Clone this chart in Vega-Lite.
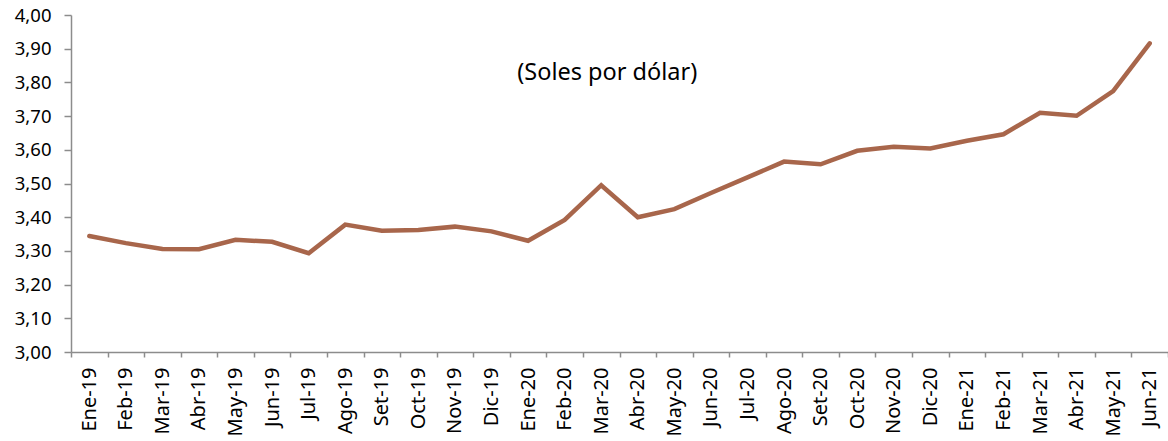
{
  "$schema": "https://vega.github.io/schema/vega-lite/v6.json",
  "autosize": {"type": "none"},
  "width": 1097,
  "height": 337,
  "padding": {"left": 71, "top": 15, "right": 0, "bottom": 89},
  "background": "white",
  "config": {
    "locale": {"number": {"decimal": ",", "thousands": ".", "grouping": [3], "currency": ["", ""]}},
    "view": {"stroke": null},
    "font": "Noto Sans",
    "axisX": {
      "title": null, "labelAngle": -90, "labelFontSize": 20, "labelColor": "#000000",
      "labelFontWeight": "normal", "labelOverlap": false, "labelBound": false,
      "tickSize": 5, "tickColor": "#8c8c8c", "domainColor": "#8c8c8c",
      "domainWidth": 1.5, "tickWidth": 1.5, "labelPadding": 10, "labelFont": "Noto Sans"
    },
    "axisY": {
      "title": null, "grid": false, "labelFontSize": 18.5, "labelColor": "#000000",
      "labelFontWeight": "normal", "labelOverlap": false, "labelBound": false,
      "tickSize": 7, "tickColor": "#8c8c8c", "domainColor": "#8c8c8c",
      "domainWidth": 1.5, "tickWidth": 1.5, "labelPadding": 13, "labelFont": "Noto Sans"
    }
  },
  "layer": [
    {
      "data": {
        "values": [
          {"mes": "Ene-19", "tc": 3.344},
          {"mes": "Feb-19", "tc": 3.323},
          {"mes": "Mar-19", "tc": 3.306},
          {"mes": "Abr-19", "tc": 3.305},
          {"mes": "May-19", "tc": 3.333},
          {"mes": "Jun-19", "tc": 3.327},
          {"mes": "Jul-19", "tc": 3.293},
          {"mes": "Ago-19", "tc": 3.378},
          {"mes": "Set-19", "tc": 3.360},
          {"mes": "Oct-19", "tc": 3.362},
          {"mes": "Nov-19", "tc": 3.372},
          {"mes": "Dic-19", "tc": 3.358},
          {"mes": "Ene-20", "tc": 3.330},
          {"mes": "Feb-20", "tc": 3.392},
          {"mes": "Mar-20", "tc": 3.495},
          {"mes": "Abr-20", "tc": 3.400},
          {"mes": "May-20", "tc": 3.424},
          {"mes": "Jun-20", "tc": 3.472},
          {"mes": "Jul-20", "tc": 3.518},
          {"mes": "Ago-20", "tc": 3.565},
          {"mes": "Set-20", "tc": 3.557},
          {"mes": "Oct-20", "tc": 3.597},
          {"mes": "Nov-20", "tc": 3.609},
          {"mes": "Dic-20", "tc": 3.604},
          {"mes": "Ene-21", "tc": 3.627},
          {"mes": "Feb-21", "tc": 3.646},
          {"mes": "Mar-21", "tc": 3.710},
          {"mes": "Abr-21", "tc": 3.701},
          {"mes": "May-21", "tc": 3.774},
          {"mes": "Jun-21", "tc": 3.916}
        ]
      },
      "mark": {"type": "line", "color": "#A8664B", "strokeWidth": 4.5, "strokeJoin": "miter", "strokeCap": "round"},
      "encoding": {
        "x": {
          "field": "mes", "type": "ordinal", "sort": null,
          "scale": {"paddingInner": 0, "paddingOuter": 0},
          "axis": {"tickBand": "extent"}
        },
        "y": {
          "field": "tc", "type": "quantitative",
          "scale": {"domain": [3, 4], "nice": false, "zero": false},
          "axis": {"values": [3, 3.1, 3.2, 3.3, 3.4, 3.5, 3.6, 3.7, 3.8, 3.9, 4], "format": ".2f"}
        }
      }
    },
    {
      "data": {"values": [{"label": "(Soles por dólar)", "mes": "Mar-20", "tc": 3.828}]},
      "mark": {"type": "text", "fontSize": 23.5, "font": "Noto Sans", "fontWeight": "normal", "color": "#000000", "align": "center", "baseline": "middle", "dx": 6},
      "encoding": {
        "text": {"field": "label"},
        "x": {"field": "mes", "type": "ordinal", "sort": null, "axis": {"tickBand": "extent"}},
        "y": {"field": "tc", "type": "quantitative",
          "axis": {"values": [3, 3.1, 3.2, 3.3, 3.4, 3.5, 3.6, 3.7, 3.8, 3.9, 4], "format": ".2f"}}
      }
    }
  ]
}
